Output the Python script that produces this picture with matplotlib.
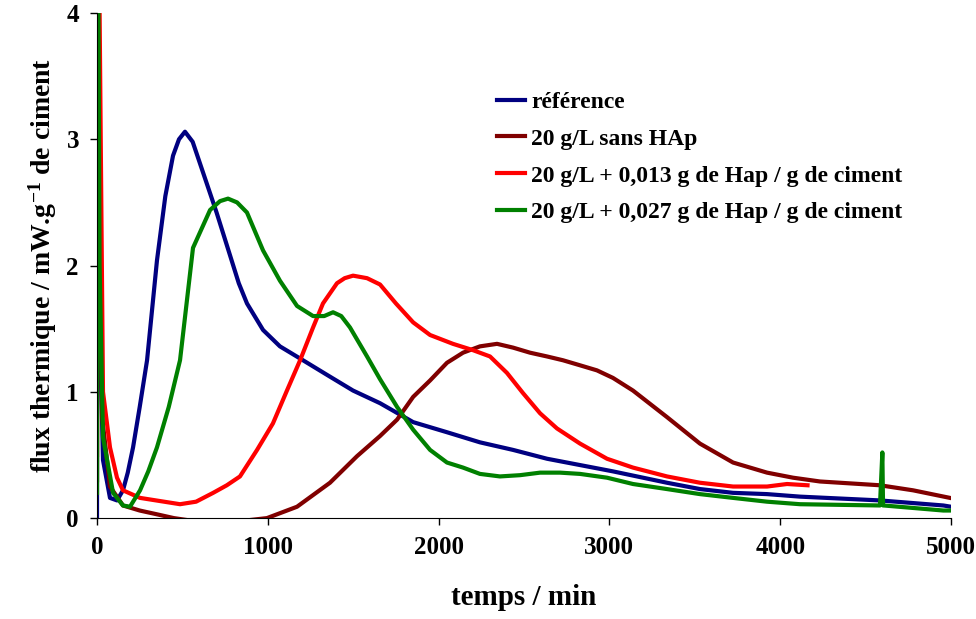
import matplotlib
matplotlib.use("Agg")
import matplotlib.pyplot as plt

# temps en min, flux en mW/g de ciment
ref_t = [0, 2, 15, 35, 76, 117, 152, 180, 211, 250, 293, 351, 400, 445, 480, 515, 560, 620,
         700, 779, 830, 878, 972, 1071, 1206, 1364, 1499, 1657, 1851, 2049, 2242, 2436, 2635,
         2828, 3021, 3337, 3530, 3724, 3923, 4116, 4584, 4955, 5000]
ref_y = [0.0, 6.0, 1.6, 0.46, 0.16, 0.14, 0.22, 0.36, 0.56, 0.88, 1.25, 2.04, 2.55, 2.87, 3.00,
         3.06, 2.98, 2.74, 2.42, 2.08, 1.86, 1.70, 1.49, 1.36, 1.25, 1.12, 1.01, 0.91, 0.76,
         0.68, 0.60, 0.54, 0.47, 0.42, 0.37, 0.28, 0.23, 0.20, 0.19, 0.17, 0.14, 0.10, 0.09]

sans_t = [0, 2, 30, 76, 152, 250, 351, 450, 600, 800, 995, 1171, 1364, 1522, 1657, 1757, 1851,
          1950, 2049, 2143, 2242, 2342, 2436, 2535, 2635, 2728, 2828, 2927, 3021, 3138, 3337,
          3530, 3724, 3923, 4075, 4233, 4584, 4778, 4994]
sans_y = [0.3, 5.0, 0.8, 0.25, 0.10, 0.06, 0.03, 0.0, -0.03, -0.03, 0.0, 0.09, 0.28, 0.49, 0.65,
          0.78, 0.96, 1.09, 1.23, 1.31, 1.36, 1.38, 1.35, 1.31, 1.28, 1.25, 1.21, 1.17, 1.11,
          1.01, 0.80, 0.59, 0.44, 0.36, 0.32, 0.29, 0.26, 0.22, 0.16]

hap13_t = [0, 2, 35, 76, 117, 152, 252, 486, 580, 680, 760, 837, 937, 1030, 1112, 1189, 1265,
           1323, 1405, 1450, 1499, 1581, 1657, 1750, 1851, 1950, 2084, 2201, 2301, 2400, 2494,
           2594, 2693, 2828, 2986, 3138, 3337, 3530, 3724, 3923, 4040, 4160]
hap13_y = [0.5, 6.0, 1.0, 0.56, 0.32, 0.22, 0.16, 0.11, 0.13, 0.20, 0.26, 0.33, 0.54, 0.75,
           1.01, 1.25, 1.51, 1.70, 1.86, 1.90, 1.92, 1.90, 1.85, 1.70, 1.55, 1.45, 1.38, 1.33,
           1.28, 1.15, 0.99, 0.83, 0.71, 0.59, 0.47, 0.40, 0.33, 0.28, 0.25, 0.25, 0.27, 0.26]

hap27_t = [0, 2, 15, 35, 94, 152, 193, 252, 300, 351, 420, 486, 562, 662, 720, 767, 820, 878,
           972, 1071, 1171, 1265, 1330, 1382, 1430, 1481, 1581, 1657, 1757, 1851, 1950, 2049,
           2143, 2242, 2359, 2477, 2594, 2711, 2828, 2986, 3138, 3337, 3530, 3724, 3923, 4116,
           4584, 4598, 4602, 4606, 4955, 5000]
hap27_y = [0.2, 6.0, 2.0, 0.64, 0.20, 0.10, 0.09, 0.22, 0.37, 0.56, 0.88, 1.25, 2.14, 2.44,
           2.51, 2.53, 2.50, 2.42, 2.12, 1.88, 1.68, 1.60, 1.60, 1.63, 1.60, 1.51, 1.28, 1.10,
           0.88, 0.70, 0.54, 0.44, 0.40, 0.35, 0.33, 0.34, 0.36, 0.36, 0.35, 0.32, 0.27, 0.23,
           0.19, 0.16, 0.13, 0.11, 0.10, 0.52, 0.10, 0.10, 0.06, 0.06]

labels = ["référence", "20 g/L sans HAp",
          "20 g/L + 0,013 g de Hap / g de ciment",
          "20 g/L + 0,027 g de Hap / g de ciment"]

plt.rcParams['font.family'] = 'Liberation Serif'
plt.rcParams['font.weight'] = 'bold'
plt.rcParams['mathtext.fontset'] = 'custom'
plt.rcParams['mathtext.rm'] = 'Liberation Serif:bold'
plt.rcParams['mathtext.bf'] = 'Liberation Serif:bold'
plt.rcParams['mathtext.default'] = 'bf'

fig = plt.figure(figsize=(9.76, 6.19), dpi=100)
ax = fig.add_axes([0.0994, 0.163, 0.8750, 0.816])

lw = 3.0
ax.plot(ref_t, ref_y, color='#000080', lw=lw, label=labels[0])
ax.plot(sans_t, sans_y, color='#800000', lw=lw, label=labels[1])
ax.plot(hap13_t, hap13_y, color='#FF0000', lw=lw, label=labels[2])
ax.plot(hap27_t, hap27_y, color='#008000', lw=lw, label=labels[3])

ax.set_xlim(0, 5000)
ax.set_ylim(0, 4)
ax.set_xticks(range(0, 5001, 1000))
ax.set_yticks(range(0, 5))
ax.tick_params(direction='out', length=5, width=1, labelsize=18, pad=8)
for lab in ax.get_xticklabels() + ax.get_yticklabels():
    lab.set_fontweight('bold')

ax.spines['top'].set_visible(False)
ax.spines['right'].set_visible(False)

ax.set_xlabel("temps / min", fontsize=21, fontweight='bold', labelpad=18)
ax.set_ylabel("flux thermique / mW.g$^{\\mathrm{-1}}$ de ciment", fontsize=20,
              fontweight='bold', labelpad=5)

leg = ax.legend(loc='upper left', bbox_to_anchor=(0.468, 0.845), frameon=False,
                prop={'family': 'Liberation Serif', 'weight': 'bold', 'size': 17},
                handlelength=1.2, handletextpad=0.25, labelspacing=0.65,
                borderpad=0, borderaxespad=0)

fig.savefig("out.png", dpi=100)
